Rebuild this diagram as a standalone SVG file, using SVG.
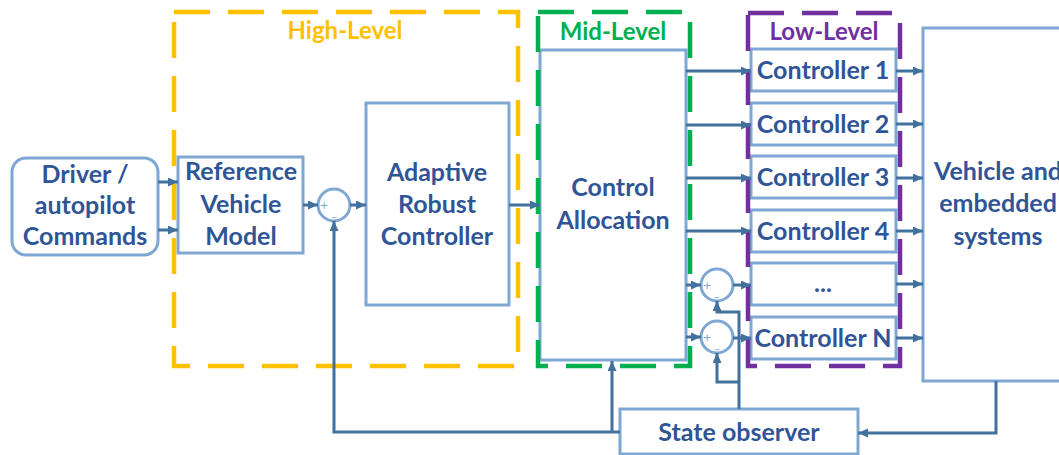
<svg xmlns="http://www.w3.org/2000/svg" width="1059" height="455" viewBox="0 0 1059 455">
<style>
.box{fill:#fff;stroke:#7FA7D3;stroke-width:3}
.sum{fill:#fff;stroke:#7FA7D3;stroke-width:3}
.t{font-family:Lato,"Open Sans",sans-serif;font-weight:bold;font-size:25px;fill:#2F5597;text-anchor:middle}
.ttl{font-family:Lato,"Open Sans",sans-serif;font-weight:bold;font-size:24px;text-anchor:middle}
.sg{font-family:"DejaVu Sans",sans-serif;font-size:11px;fill:#7FA7D3;text-anchor:middle}
.c{fill:none;stroke:#41719C;stroke-width:3}
.a{marker-end:url(#ah)}
.frame{fill:none;stroke-width:4.5;stroke-dasharray:36 18}
</style>
<defs>
<marker id="ah" markerUnits="userSpaceOnUse" markerWidth="11" markerHeight="10" refX="10" refY="4.5" orient="auto">
<path d="M0,0 L10,4.5 L0,9 z" fill="#41719C"/>
</marker>
</defs>
<rect width="1059" height="455" fill="#fff"/>
<g id="driver"><rect class="box" x="12" y="158" width="146" height="97" rx="14"/>
<text class="t" x="85" y="183">Driver /</text><text class="t" x="85" y="214">autopilot</text><text class="t" x="85" y="245">Commands</text></g>
<g id="reference"><rect class="box" x="178" y="157" width="125" height="96"/>
<text class="t" x="241" y="180">Reference</text><text class="t" x="241" y="213">Vehicle</text><text class="t" x="241" y="245">Model</text></g>
<g id="sum1"><circle class="sum" cx="334" cy="205" r="16"/><text class="sg" x="324" y="209">+</text><text class="sg" x="334" y="220">–</text></g>
<g id="arc"><rect class="box" x="366" y="103" width="143" height="202"/>
<text class="t" x="437" y="181">Adaptive</text><text class="t" x="437" y="213">Robust</text><text class="t" x="437" y="245">Controller</text></g>
<g id="allocation"><rect class="box" x="540" y="50" width="146" height="310"/>
<text class="t" x="613" y="196">Control</text><text class="t" x="613" y="229">Allocation</text></g>
<g id="sum2"><circle class="sum" cx="717" cy="285" r="16"/><text class="sg" x="707" y="289">+</text><text class="sg" x="717" y="300">–</text></g>
<g id="sum3"><circle class="sum" cx="717" cy="337" r="16"/><text class="sg" x="707" y="341">+</text><text class="sg" x="717" y="352">–</text></g>
<g id="ctrl1"><rect class="box" x="751" y="49" width="145" height="42"/><text class="t" x="823" y="79">Controller 1</text></g>
<g id="ctrl2"><rect class="box" x="751" y="103" width="145" height="42"/><text class="t" x="823" y="133">Controller 2</text></g>
<g id="ctrl3"><rect class="box" x="751" y="156" width="145" height="42"/><text class="t" x="823" y="186">Controller 3</text></g>
<g id="ctrl4"><rect class="box" x="751" y="210" width="145" height="42"/><text class="t" x="823" y="240">Controller 4</text></g>
<g id="ctrldots"><rect class="box" x="751" y="263" width="145" height="42"/><text class="t" x="823" y="292">...</text></g>
<g id="ctrlN"><rect class="box" x="751" y="317" width="145" height="42"/><text class="t" x="823" y="347">Controller N</text></g>
<g id="vehicle"><rect class="box" x="923" y="28" width="150" height="353"/>
<text class="t" x="998" y="180">Vehicle and</text><text class="t" x="998" y="212">embedded</text><text class="t" x="998" y="245">systems</text></g>
<g id="observer"><rect class="box" x="620" y="409" width="238" height="45"/><text class="t" x="739" y="441">State observer</text></g>
<g id="high-level"><rect class="frame" x="174" y="12" width="344" height="354" stroke="#FFC000"/><text class="ttl" x="345" y="39" fill="#FFC000">High-Level</text></g>
<g id="mid-level"><rect class="frame" x="538" y="12" width="152" height="354" stroke="#00B050"/><text class="ttl" x="613" y="40" fill="#00B050">Mid-Level</text></g>
<g id="low-level"><rect class="frame" x="748" y="13" width="152" height="353" stroke="#7030A0"/><text class="ttl" x="824" y="40" fill="#7030A0">Low-Level</text></g>
<g id="connectors">
<path class="c a" d="M158,182 H178"/>
<path class="c a" d="M158,230 H178"/>
<path class="c a" d="M303,205 H318"/>
<path class="c a" d="M350,205 H366"/>
<path class="c a" d="M509,205 H540"/>
<path class="c a" d="M686,71 H751"/>
<path class="c a" d="M686,125 H751"/>
<path class="c a" d="M686,178 H751"/>
<path class="c a" d="M686,231 H751"/>
<path class="c a" d="M686,285 H701"/>
<path class="c a" d="M686,337 H701"/>
<path class="c a" d="M733,285 H751"/>
<path class="c a" d="M733,338 H751"/>
<path class="c a" d="M896,71 H923"/>
<path class="c a" d="M896,124 H923"/>
<path class="c a" d="M896,178 H923"/>
<path class="c a" d="M896,231 H923"/>
<path class="c a" d="M896,284 H923"/>
<path class="c a" d="M896,338 H923"/>
<path class="c a" d="M620,432 H334 V221"/>
<path class="c a" d="M612,432 V361"/>
<path class="c a" d="M739,409 V312 H717 V301"/>
<path class="c a" d="M739,382 H717 V353"/>
<path class="c a" d="M996,381 V433 H858"/>
</g>
</svg>
